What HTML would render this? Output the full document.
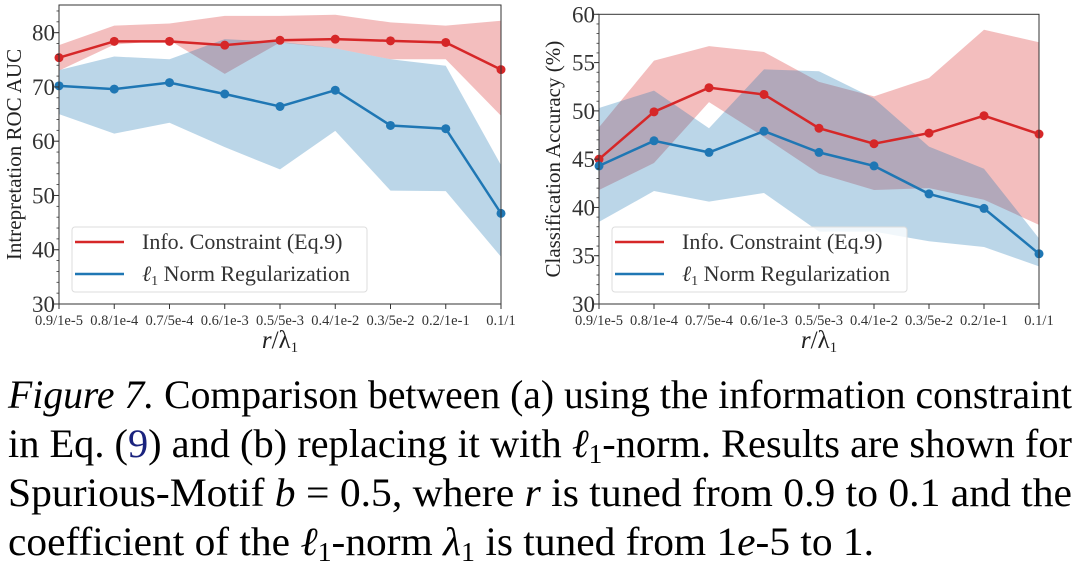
<!DOCTYPE html>
<html><head><meta charset="utf-8"><style>
html,body{margin:0;padding:0;background:#fff;}
svg{display:block;font-family:"Liberation Serif","DejaVu Serif",serif;}
</style></head><body>
<svg id="fig" width="1080" height="571" viewBox="0 0 1080 571"></svg>
<script>
const categories=["0.9/1e-5","0.8/1e-4","0.7/5e-4","0.6/1e-3","0.5/5e-3","0.4/1e-2","0.3/5e-2","0.2/1e-1","0.1/1"];
// Left chart: Interpretation ROC AUC
const aucRed=[75.4,78.4,78.4,77.7,78.6,78.8,78.5,78.2,73.2];
const aucRedHi=[77.7,81.3,81.7,83.1,83.1,83.3,81.9,81.3,82.2];
const aucRedLo=[73.0,77.8,78.6,72.4,78.2,77.1,75.1,75.1,64.7];
const aucBlue=[70.2,69.6,70.8,68.7,66.4,69.4,62.9,62.3,46.7];
const aucBlueHi=[73.1,75.6,75.1,78.8,78.3,77.1,75.1,73.9,55.6];
const aucBlueLo=[65.0,61.4,63.4,58.9,54.8,61.9,50.9,50.8,38.7];
const aucTicks=[30,40,50,60,70,80];
// Right chart: Classification Accuracy
const accRed=[45.0,49.9,52.4,51.7,48.2,46.6,47.7,49.5,47.6];
const accRedHi=[48.3,55.2,56.7,56.1,53.0,51.5,53.4,58.4,57.1];
const accRedLo=[41.8,44.6,50.9,47.3,43.5,41.8,42.0,40.8,38.2];
const accBlue=[44.3,46.9,45.7,47.9,45.7,44.3,41.4,39.9,35.2];
const accBlueHi=[50.3,52.1,48.2,54.3,54.1,51.3,46.3,44.0,36.8];
const accBlueLo=[38.5,41.7,40.6,41.5,37.5,37.5,36.5,35.9,33.9];
const accTicks=[30,35,40,45,50,55,60];

const NS="http://www.w3.org/2000/svg";
const svg=document.getElementById('fig');
function mk(tag,attrs,parent,text){const e=document.createElementNS(NS,tag);for(const k in attrs)e.setAttribute(k,attrs[k]);if(text!==undefined)e.textContent=text;(parent||svg).appendChild(e);return e;}

function chart(cfg){
  const g=mk('g',{});
  
  
  const {x0,x1,yTop,yBot,ymin,ymax}=cfg;
  const xs=i=>x0+(x1-x0)*i/(categories.length-1);
  const ys=v=>yBot-(v-ymin)/(ymax-ymin)*(yBot-yTop);
  function band(hi,lo,color,name){
    let d='M'+hi.map((v,i)=>xs(i)+','+ys(v)).join('L')+'L'+lo.map((v,i)=>xs(i)+','+ys(v)).reverse().join('L')+'Z';
    const p=mk('path',{d:d,fill:color,'fill-opacity':0.3,stroke:'none'},g);
    
    
  }
  function line(vals,color,name){
    const p=mk('polyline',{points:vals.map((v,i)=>xs(i)+','+ys(v)).join(' '),fill:'none',stroke:color,'stroke-width':2.5},g);
    
    
    vals.forEach((v,i)=>{const c=mk('circle',{cx:xs(i),cy:ys(v),r:4.5,fill:color},g);
      
      });
  }
  band(cfg.rHi,cfg.rLo,'#d62728','info-constraint-band');
  band(cfg.bHi,cfg.bLo,'#1f77b4','l1-norm-band');
  line(cfg.r,'#d62728','info-constraint');
  line(cfg.b,'#1f77b4','l1-norm');
  const fr=mk('rect',{x:x0,y:yTop,width:x1-x0,height:yBot-yTop,fill:'none',stroke:'#333','stroke-width':1},g);
  
  
  const step=cfg.minor;
  for(let v=ymin;v<=ymax+1e-9;v+=step){mk('line',{x1:x0-2.5,x2:x0,y1:ys(v),y2:ys(v),stroke:'#333','stroke-width':0.8},g);}
  cfg.ticks.forEach(t=>{mk('line',{x1:x0-5,x2:x0,y1:ys(t),y2:ys(t),stroke:'#333','stroke-width':1},g);
    const tx=mk('text',{x:x0-4,y:ys(t)+8,'text-anchor':'end','font-size':23,fill:'#333'},g,String(t));
    
    });
  categories.forEach((c,i)=>{mk('line',{x1:xs(i),x2:xs(i),y1:yBot,y2:yBot+5,stroke:'#333'},g);
    const tx=mk('text',{x:xs(i),y:yBot+21,'text-anchor':'middle','font-size':14.5,fill:'#333'},g,c);
    
    });
  const yl=mk('text',{x:0,y:0,transform:`translate(${cfg.ylx},${(yTop+yBot)/2}) rotate(-90)`,'text-anchor':'middle','font-size':21,fill:'#222'},g,cfg.ylabel);
  
  
  const xl=mk('text',{x:(x0+x1)/2,y:348,'text-anchor':'middle','font-size':25,fill:'#222'},g);
  
  
  mk('tspan',{'font-style':'italic'},xl,'r');mk('tspan',{},xl,'/λ');mk('tspan',{'font-size':15,dy:4},xl,'1');
  const lg=mk('g',{},g);
  
  
  const lx=x0+13;
  mk('rect',{x:lx,y:227,width:295,height:65,rx:3,fill:'#fff','fill-opacity':0.8,stroke:'#ddd'},lg);
  mk('line',{x1:lx+3,x2:lx+52,y1:242,y2:242,stroke:'#d62728','stroke-width':2.5},lg);
  mk('line',{x1:lx+3,x2:lx+52,y1:274,y2:274,stroke:'#1f77b4','stroke-width':2.5},lg);
  const t1=mk('text',{x:lx+70,y:249,'font-size':22,fill:'#333'},lg,'Info. Constraint (Eq.9)');
  
  
  const t2=mk('text',{x:lx+70,y:281,'font-size':22,fill:'#333'},lg);
  
  
  mk('tspan',{'font-style':'italic'},t2,'ℓ');mk('tspan',{'font-size':14,dy:4},t2,'1');mk('tspan',{dy:-4},t2,' Norm Regularization');
}
chart({name:'auc-chart',x0:59,x1:501,yTop:5,yBot:304,ymin:30,ymax:85.1,minor:2,ticks:aucTicks,ylabel:'Intrepretation ROC AUC',ylx:21,
  r:aucRed,rHi:aucRedHi,rLo:aucRedLo,b:aucBlue,bHi:aucBlueHi,bLo:aucBlueLo});
chart({name:'accuracy-chart',x0:599,x1:1039,yTop:14.3,yBot:304,ymin:30,ymax:60,minor:1,ticks:accTicks,ylabel:'Classification Accuracy (%)',ylx:560,
  r:accRed,rHi:accRedHi,rLo:accRedLo,b:accBlue,bHi:accBlueHi,bLo:accBlueLo});

const cap=mk('g',{'font-size':40,fill:'#000'});


const l1=mk('text',{x:8,y:408,textLength:1064,lengthAdjust:'spacingAndGlyphs'},cap);
mk('tspan',{'font-style':'italic'},l1,'Figure 7.');mk('tspan',{},l1,' Comparison between (a) using the information constraint');
const l2=mk('text',{x:8,y:457,textLength:1064,lengthAdjust:'spacingAndGlyphs'},cap);
mk('tspan',{},l2,'in Eq. (');mk('tspan',{fill:'#1a237e'},l2,'9');mk('tspan',{},l2,') and (b) replacing it with ');mk('tspan',{'font-style':'italic'},l2,'ℓ');mk('tspan',{'font-size':27,dy:6},l2,'1');mk('tspan',{dy:-6},l2,'-norm. Results are shown for');
const l3=mk('text',{x:8,y:506,textLength:1064,lengthAdjust:'spacingAndGlyphs'},cap);
mk('tspan',{},l3,'Spurious-Motif ');mk('tspan',{'font-style':'italic'},l3,'b');mk('tspan',{},l3,' = 0.5, where ');mk('tspan',{'font-style':'italic'},l3,'r');mk('tspan',{},l3,' is tuned from 0.9 to 0.1 and the');
const l4=mk('text',{x:8,y:555,textLength:866,lengthAdjust:'spacingAndGlyphs'},cap);
mk('tspan',{},l4,'coefficient of the ');mk('tspan',{'font-style':'italic'},l4,'ℓ');mk('tspan',{'font-size':27,dy:6},l4,'1');mk('tspan',{dy:-6},l4,'-norm ');mk('tspan',{'font-style':'italic'},l4,'λ');mk('tspan',{'font-size':27,dy:6},l4,'1');mk('tspan',{dy:-6},l4,' is tuned from 1');mk('tspan',{'font-style':'italic'},l4,'e');mk('tspan',{},l4,'-5 to 1.');
</script>
</body></html>
